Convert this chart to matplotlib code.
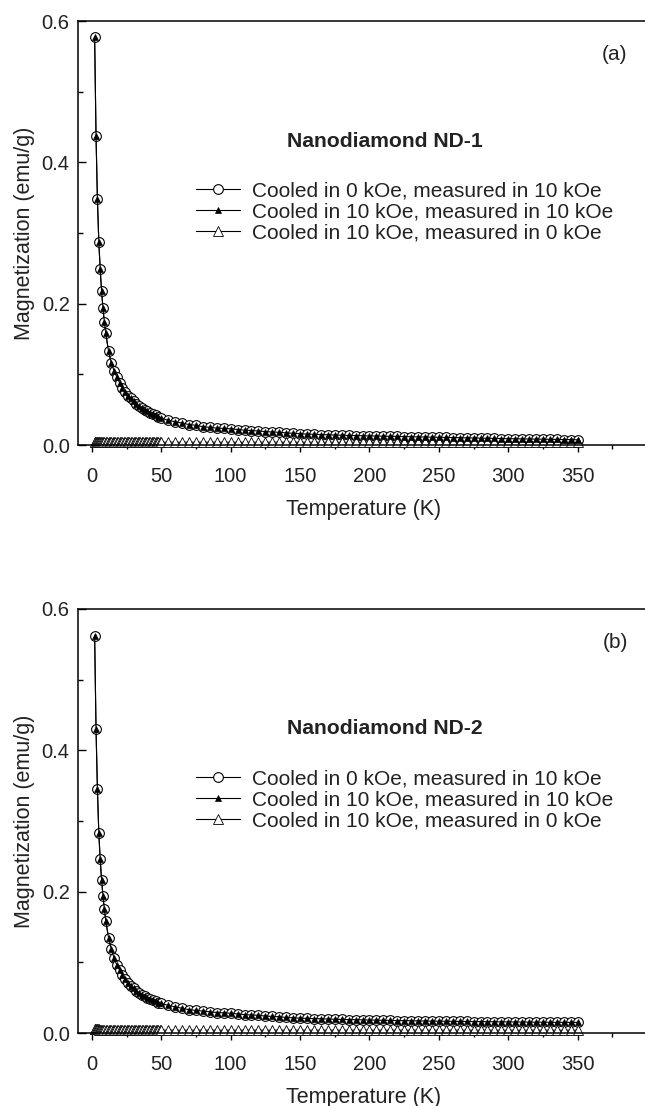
import matplotlib
matplotlib.use("Agg")
import matplotlib.pyplot as plt
from matplotlib.ticker import MultipleLocator

plt.rcParams['font.family'] = ['Liberation Sans', 'DejaVu Sans']
plt.rcParams['font.size'] = 15

# temperatures (K) of the two field-on sweeps
T_main = [2, 3, 4, 5, 6, 7, 8, 9, 10, 12, 14, 16, 18, 20, 22, 24, 26, 28, 30,
          32, 34, 36, 38, 40, 42, 44, 46, 48, 50,
          55, 60, 65, 70, 75, 80, 85, 90, 95, 100, 105, 110, 115, 120, 125,
          130, 135, 140, 145, 150, 155, 160, 165, 170, 175, 180, 185, 190,
          195, 200, 205, 210, 215, 220, 225, 230, 235, 240, 245, 250, 255,
          260, 265, 270, 275, 280, 285, 290, 295, 300, 305, 310, 315, 320,
          325, 330, 335, 340, 345, 350]

# temperatures (K) of the remanence sweep
T_rem = [2, 2.5, 3, 3.5, 4, 4.5, 5, 5.5, 6, 6.5, 7,
         8, 9, 10, 11, 12, 13, 14, 15, 16, 17, 18, 19, 20, 21, 22, 23, 24,
         25, 26, 27, 28, 29, 30, 31, 32, 33, 34, 35, 36, 37, 38, 39, 40, 41,
         42, 43, 44, 45, 46, 47, 48, 49, 50,
         55, 60, 65, 70, 75, 80, 85, 90, 95, 100, 105, 110, 115, 120, 125,
         130, 135, 140, 145, 150, 155, 160, 165, 170, 175, 180, 185, 190,
         195, 200, 205, 210, 215, 220, 225, 230, 235, 240, 245, 250, 255,
         260, 265, 270, 275, 280, 285, 290, 295, 300, 305, 310, 315, 320,
         325, 330, 335, 340, 345, 350]

# ND-1, cooled in 0 kOe, measured in 10 kOe
zfc_a = [0.577, 0.437, 0.348, 0.288, 0.249, 0.218, 0.194, 0.174, 0.158,
         0.133, 0.116, 0.105, 0.096, 0.088, 0.081, 0.075, 0.070, 0.066,
         0.062, 0.058, 0.055, 0.052, 0.050, 0.048, 0.046, 0.044, 0.042,
         0.040, 0.038,
         0.035, 0.033, 0.031, 0.029, 0.028, 0.026, 0.025, 0.024, 0.0235,
         0.023, 0.022, 0.021, 0.0205, 0.020, 0.019, 0.0185, 0.018, 0.0172,
         0.0167, 0.016, 0.0156, 0.0152, 0.0148, 0.0145, 0.0142, 0.0139,
         0.0136, 0.0134, 0.0132, 0.013, 0.0128, 0.0126, 0.0124, 0.0122,
         0.012, 0.0118, 0.0116, 0.0114, 0.0112, 0.011, 0.0108, 0.0106,
         0.0104, 0.0102, 0.010, 0.0098, 0.0096, 0.0094, 0.0092, 0.009,
         0.0089, 0.0087, 0.0086, 0.0084, 0.0083, 0.0081, 0.008, 0.0078,
         0.0077, 0.0075]
# ND-1, cooled in 10 kOe, measured in 10 kOe (lies on the ZFC points)
fc_a = zfc_a

# ND-2, cooled in 0 kOe, measured in 10 kOe
zfc_b = [0.562, 0.430, 0.345, 0.283, 0.246, 0.217, 0.194, 0.175, 0.159,
         0.135, 0.119, 0.106, 0.096, 0.089, 0.082, 0.076, 0.071, 0.067,
         0.063, 0.060, 0.057, 0.054, 0.052, 0.050, 0.048, 0.046, 0.045,
         0.043, 0.042,
         0.039, 0.037, 0.035, 0.033, 0.032, 0.031, 0.030, 0.029, 0.0285,
         0.028, 0.027, 0.026, 0.0255, 0.025, 0.024, 0.0235, 0.023, 0.022,
         0.0215, 0.021, 0.0207, 0.0204, 0.0201, 0.0198, 0.0195, 0.0192,
         0.019, 0.0188, 0.0186, 0.0184, 0.0182, 0.018, 0.0178, 0.0176,
         0.0175, 0.0173, 0.0172, 0.017, 0.0169, 0.0167, 0.0166, 0.0165,
         0.0164, 0.0163, 0.0162, 0.0161, 0.016, 0.0159, 0.0158, 0.0157,
         0.0156, 0.0155, 0.0154, 0.0153, 0.0153, 0.0152, 0.0151, 0.0151,
         0.015, 0.015]
fc_b = zfc_b

# remanence (cooled in 10 kOe, measured in 0 kOe), flat near zero
rem_a = [0.005, 0.005, 0.005, 0.005, 0.005, 0.005, 0.005, 0.004, 0.004,
         0.004, 0.004,
         # 8 .. 50 K
         0.004, 0.004, 0.004, 0.004, 0.004, 0.004, 0.004, 0.004, 0.004, 0.004,
         0.004, 0.004, 0.004, 0.004, 0.004, 0.004, 0.004, 0.004, 0.004, 0.004,
         0.004, 0.004, 0.004, 0.004, 0.004, 0.004, 0.004, 0.004, 0.004, 0.004,
         0.004, 0.004, 0.004, 0.004, 0.004, 0.004, 0.004, 0.004, 0.004, 0.004,
         0.004, 0.004, 0.004,
         # 55 .. 350 K
         0.004, 0.004, 0.004, 0.004, 0.004, 0.004, 0.004, 0.004, 0.004, 0.004,
         0.004, 0.004, 0.004, 0.004, 0.004, 0.004, 0.004, 0.004, 0.004, 0.004,
         0.004, 0.004, 0.004, 0.004, 0.004, 0.004, 0.004, 0.004, 0.004, 0.004,
         0.004, 0.004, 0.004, 0.004, 0.004, 0.004, 0.004, 0.004, 0.004, 0.004,
         0.004, 0.004, 0.004, 0.004, 0.004, 0.004, 0.004, 0.004, 0.004, 0.004,
         0.004, 0.004, 0.004, 0.004, 0.004, 0.004, 0.004, 0.004, 0.004, 0.004]
rem_b = rem_a

labels = ["Cooled in 0 kOe, measured in 10 kOe",
          "Cooled in 10 kOe, measured in 10 kOe",
          "Cooled in 10 kOe, measured in 0 kOe"]
panels = [("Nanodiamond ND-1", "(a)", zfc_a, fc_a, rem_a),
          ("Nanodiamond ND-2", "(b)", zfc_b, fc_b, rem_b)]

fig = plt.figure(figsize=(6.45, 11.06), dpi=100)
bottoms = [0.5976, 0.066]
ink = '#222222'

for (title, tag, zfc, fc, rem), bot in zip(panels, bottoms):
    ax = fig.add_axes([0.1209, bot, 0.9039, 0.3834])
    l1, = ax.plot(T_main, zfc, '-', color='black', lw=0.8, marker='o',
                  ms=7, mfc='white', mec='black', mew=0.8, zorder=2)
    l2, = ax.plot(T_main, fc, '-', color='black', lw=0.8, marker='^',
                  ms=4.5, mfc='black', mec='black', mew=0.5, zorder=3)
    l3, = ax.plot(T_rem, rem, '-', color='black', lw=0.8, marker='^',
                  ms=7.5, mfc='white', mec='black', mew=0.6, zorder=2,
                  clip_on=False)
    ax.set_xlim(-10, 410)
    ax.set_ylim(0, 0.6)
    ax.xaxis.set_minor_locator(MultipleLocator(25))
    ax.yaxis.set_minor_locator(MultipleLocator(0.1))
    ax.set_xticks([0, 50, 100, 150, 200, 250, 300, 350, 400])
    ax.set_xticklabels(['0', '50', '100', '150', '200', '250', '300', '350', ''])
    ax.set_yticks([0, 0.2, 0.4, 0.6])
    ax.set_yticklabels(['0.0', '0.2', '0.4', '0.6'])
    ax.tick_params(axis='x', which='major', direction='out', length=5,
                   width=1, pad=11, labelsize=14.5, labelcolor=ink)
    ax.tick_params(axis='x', which='minor', direction='out', length=3, width=1)
    ax.tick_params(axis='y', which='major', direction='in', length=5.5,
                   width=1, pad=6, labelsize=14.5, labelcolor=ink)
    ax.tick_params(axis='y', which='minor', direction='in', length=3.5, width=1)
    for s in ax.spines.values():
        s.set_linewidth(1.1)
    ax.set_xlabel("Temperature (K)", color=ink, fontsize=15.5)
    ax.xaxis.set_label_coords(0.489, -0.127)
    ax.set_ylabel("Magnetization (emu/g)", color=ink, fontsize=15.5)
    ax.yaxis.set_label_coords(-0.074, 0.5)
    ax.text(0.5266, 0.717, title, transform=ax.transAxes, ha='center',
            va='center', fontweight='bold', color=ink, fontsize=15.2)
    ax.text(0.921, 0.92, tag, transform=ax.transAxes, ha='center',
            va='center', color=ink, fontsize=15)
    ax.legend([l1, l2, l3], labels, loc='upper left',
              bbox_to_anchor=(0.2024, 0.622), frameon=False, borderpad=0,
              borderaxespad=0, handlelength=2.1, handletextpad=0.58,
              labelspacing=0.1, fontsize=15, labelcolor=ink)

fig.savefig("out.png", dpi=100)
